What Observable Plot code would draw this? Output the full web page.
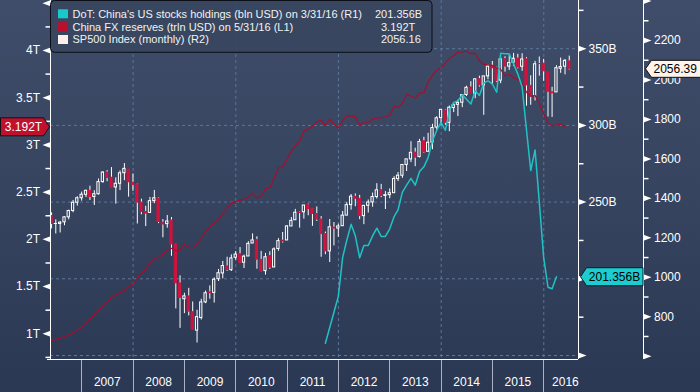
<!DOCTYPE html>
<html><head><meta charset="utf-8">
<script src="https://cdn.jsdelivr.net/npm/d3@7"></script>
<script src="https://cdn.jsdelivr.net/npm/@observablehq/plot@0.6"></script>
<style>
html,body{margin:0;padding:0;background:#2d3a56;}
#chart svg{display:block;}
</style></head><body><div id="chart"></div>
<script>
// ---------- DATA ----------
// SP500 monthly candles, first bar = May 2006 (bars dated at month end)
const spFirstMonth = "2006-05";
const spOpen = [
 1310.6,1270.1,1270.2,1278.5,1303.8,1335.8,1377.8,1400.6,
 1418.0,1437.9,1406.8,1420.8,1482.4,1530.6,1504.7,1455.2,1474.0,1527.3,1545.8,1479.6,
 1468.0,1378.6,1330.5,1326.4,1386.0,1399.6,1276.7,1269.4,1287.8,1164.2,968.7,888.6,
 903.0,823.1,729.6,793.6,872.7,923.3,920.8,990.2,1019.5,1054.9,1036.2,1098.9,
 1116.6,1073.9,1105.4,1171.2,1188.6,1087.3,1031.1,1107.5,1049.7,1143.5,1185.7,1186.6,
 1257.6,1289.1,1328.6,1329.5,1365.2,1345.2,1320.6,1292.6,1219.1,1131.2,1251.0,1246.9,
 1258.9,1312.5,1365.9,1408.5,1398.0,1309.9,1362.3,1379.3,1406.5,1440.9,1412.2,1416.2,
 1426.2,1498.1,1514.7,1569.2,1597.6,1631.7,1609.8,1689.4,1636.0,1682.4,1758.7,1806.6,
 1845.9,1782.7,1857.7,1874.0,1884.7,1923.9,1962.3,1929.8,2004.1,1971.4,2018.2,2065.8,
 2058.9,1996.7,2105.2,2067.6,2087.4,2108.6,2067.0,2104.5,1970.1,1919.7,2080.8,2082.9,
 2038.2,1936.9,1937.1,2056.6,2067.2,2093.9
];
const spHigh = [
 1326.7,1290.7,1283.4,1306.7,1340.3,1389.5,1407.9,1431.8,
 1441.6,1461.6,1438.9,1498.0,1535.6,1540.6,1555.9,1503.9,1538.7,1576.1,1545.8,1523.6,
 1471.8,1396.0,1359.7,1404.6,1440.2,1404.1,1292.2,1313.2,1303.0,1167.0,1007.5,918.9,
 943.9,875.0,833.0,888.7,930.2,956.2,996.7,1039.5,1080.2,1101.4,1113.7,1130.4,
 1150.5,1112.4,1180.2,1219.8,1205.1,1131.2,1121.0,1129.2,1148.9,1196.1,1227.1,1262.6,
 1302.7,1344.1,1332.3,1364.6,1370.6,1345.2,1356.5,1307.4,1229.3,1292.7,1277.6,1269.4,
 1333.5,1378.0,1419.2,1422.4,1415.3,1363.5,1391.7,1426.7,1474.5,1471.0,1434.3,1448.0,
 1509.9,1530.9,1570.3,1597.6,1687.2,1654.2,1698.8,1709.7,1729.9,1775.2,1813.6,1849.4,
 1850.8,1867.9,1884.0,1897.3,1924.0,1968.2,1991.4,2005.0,2019.3,2018.2,2075.8,2093.6,
 2064.4,2119.6,2117.5,2125.9,2134.7,2129.9,2132.8,2112.7,2021.0,2094.3,2116.5,2104.3,
 2038.2,1963.0,2072.2,2111.1,2103.5,2120.6
];
const spLow = [
 1245.3,1219.3,1224.5,1261.3,1290.9,1327.1,1361.0,1385.9,
 1404.0,1389.4,1364.0,1416.4,1476.7,1484.2,1454.3,1370.6,1439.3,1489.6,1406.1,1435.7,
 1270.1,1316.8,1257.0,1324.4,1373.1,1272.0,1200.4,1248.6,1106.4,839.8,741.0,815.7,
 804.2,734.5,666.8,783.3,866.1,888.9,869.3,978.5,992.0,1029.4,1029.4,1085.9,
 1071.6,1044.5,1105.4,1170.7,1040.8,1028.3,1010.9,1039.7,1049.7,1131.9,1173.0,1186.6,
 1257.6,1289.1,1249.1,1294.7,1311.8,1258.1,1282.9,1101.5,1114.2,1074.8,1158.7,1202.4,
 1258.9,1312.5,1340.0,1357.4,1292.0,1266.7,1325.4,1354.7,1396.6,1403.3,1343.4,1398.1,
 1426.2,1485.0,1501.5,1536.0,1581.3,1560.3,1604.6,1627.5,1633.4,1646.5,1746.2,1768.0,
 1770.5,1737.9,1834.4,1814.4,1859.8,1916.0,1930.7,1904.8,1964.0,1820.7,2001.0,1972.6,
 1988.4,1980.9,2039.7,2048.4,2067.9,2056.3,2044.0,1867.0,1871.9,1893.7,2019.4,1993.3,
 1812.3,1810.1,1937.1,2033.8,2025.9,2050.4
];
const spClose = [
 1270.1,1270.2,1276.7,1303.8,1335.9,1377.9,1400.6,1418.3,
 1438.2,1406.8,1420.9,1482.4,1530.6,1503.4,1455.3,1474.0,1526.8,1549.4,1481.1,1468.4,
 1378.6,1330.6,1322.7,1385.6,1400.4,1280.0,1267.4,1282.8,1166.4,968.8,896.2,903.3,
 825.9,735.1,797.9,872.8,919.1,919.3,987.5,1020.6,1057.1,1036.2,1095.6,1115.1,
 1073.9,1104.5,1169.4,1186.7,1089.4,1030.7,1101.6,1049.3,1141.2,1183.3,1180.6,1257.6,
 1286.1,1327.2,1325.8,1363.6,1345.2,1320.6,1292.3,1218.9,1131.4,1253.3,1247.0,1257.6,
 1312.4,1365.7,1408.5,1397.9,1310.3,1362.2,1379.3,1406.6,1440.7,1412.2,1416.2,1426.2,
 1498.1,1514.7,1569.2,1597.6,1630.7,1606.3,1685.7,1633.0,1681.6,1756.5,1805.8,1848.4,
 1782.6,1859.5,1872.3,1884.0,1923.6,1960.2,1930.7,2003.4,1972.3,2018.1,2067.6,2058.9,
 1995.0,2104.5,2067.9,2085.5,2107.4,2063.1,2103.8,1972.2,1920.0,2079.4,2080.4,2043.9,
 1940.2,1932.2,2059.7,2065.3,2097.0,2056.39
];
// China FX reserves (trln USD), monthly from May 2006
const fxFirstMonth = "2006-05";
const fxReserves = [
 0.925,0.941,0.954,0.972,0.988,1.010,1.040,1.066,
 1.105,1.157,1.202,1.246,1.292,1.333,1.385,1.409,1.434,1.455,1.497,1.528,
 1.590,1.647,1.682,1.757,1.797,1.809,1.845,1.884,1.906,1.880,1.885,1.946,
 1.913,1.912,1.954,2.009,2.090,2.132,2.175,2.211,2.273,2.328,2.388,2.399,
 2.415,2.425,2.447,2.490,2.440,2.454,2.538,2.548,2.648,2.760,2.768,2.847,
 2.935,2.991,3.045,3.146,3.166,3.197,3.245,3.262,3.202,3.274,3.221,3.181,
 3.254,3.310,3.305,3.299,3.206,3.240,3.240,3.273,3.285,3.287,3.298,3.312,
 3.410,3.395,3.443,3.535,3.515,3.497,3.548,3.553,3.663,3.736,3.790,3.821,
 3.867,3.914,3.948,3.981,3.984,3.993,3.967,3.969,3.888,3.853,3.847,3.843,
 3.813,3.802,3.730,3.748,3.711,3.694,3.651,3.557,3.514,3.525,3.438,3.330,
 3.231,3.202,3.213,3.220,3.192
];
// DoT: China's US stocks holdings (bln USD)
const dotMonths = ["2011-09","2011-12",
 "2012-01","2012-02","2012-03","2012-04","2012-05","2012-06","2012-07","2012-08","2012-09","2012-10","2012-11","2012-12",
 "2013-01","2013-02","2013-03","2013-04","2013-05","2013-06","2013-07","2013-08","2013-09","2013-10","2013-11","2013-12",
 "2014-01","2014-02","2014-03","2014-04","2014-05","2014-06","2014-07","2014-08","2014-09","2014-10","2014-11","2014-12",
 "2015-01","2015-02","2015-03","2015-04","2015-05","2015-06","2015-07","2015-08","2015-09","2015-10","2015-11","2015-12",
 "2016-01","2016-02","2016-03"];
const dotHoldings = [158,188.5,
 214,225,235.5,228,213.7,221.7,221.7,228,233,227.6,227.6,232.6,
 240.6,245,256.5,261,265.5,261,270,273,279,290,296.7,302,
 296.7,309.7,315,316,320,317,314,322.6,319.5,327.5,329,327,
 321.6,347,346.7,346.7,340,333.6,325,297,270.6,284,250,214,
 194.5,193.5,201.356];

// Axis ticks
const years = [2007,2008,2009,2010,2011,2012,2013,2014,2015,2016];
const gridYears = [2008,2010,2012,2014,2016];
const l1Major = [1,1.5,2,2.5,3,3.5,4,4.5];
const l1Labels = [1,1.5,2,2.5,3,3.5,4];
const l1Minor = [0.75,1.25,1.75,2.25,2.75,3.25,3.75,4.25];
const r1Major = [150,200,250,300,350];
const r1Labels = [250,300,350];
const r1Minor = [175,225,275,325,375];
const r2Major = [600,800,1000,1200,1400,1600,1800,2000,2200,2400];
const r2Labels = [800,1000,1200,1400,1600,1800,2000,2200];
const r2Minor = [700,900,1100,1300,1500,1700,1900,2100,2300];
const legendNames = ["DoT: China's US stocks holdings (bln USD) on 3/31/16 (R1)",
  "China FX reserves (trln USD) on 5/31/16 (L1)", "SP500 Index (monthly) (R2)"];
const legendValues = ["201.356B","3.192T","2056.16"];
const legendColors = ["#19c8cb","#b8102e","#fdf0ea"];

// ---------- helpers ----------
const monthEnd = (s, k = 0) => { const [y, m] = s.split("-").map(Number); return new Date(Date.UTC(y, m + k, 0)); };
const sp = spClose.map((c, i) => ({date: monthEnd(spFirstMonth, i), o: spOpen[i], h: spHigh[i], l: spLow[i], c}));
const fx = fxReserves.map((v, i) => ({date: monthEnd(fxFirstMonth, i), v}));
const dot = dotMonths.map((m, i) => ({date: monthEnd(m), v: dotHoldings[i]}));

// secondary axes mapped onto the L1 (trillions) y scale
const r1 = d3.scaleLinear([150, 350], [0.7702, 4.0191]);
const r2 = d3.scaleLinear([600, 2200], [0.7628, 4.1059]);

const xDomain = [new Date(Date.UTC(2006, 4, 23, 8)), new Date(Date.UTC(2016, 8, 3, 22))];
const yDomain = [0.7279, 4.5295];

const gridColor = "#5d7596";
const red = "#d2123d";
const white = "#ffffff";
const font = "'Liberation Sans', Arial, sans-serif";

const triL = {draw(c){ c.moveTo(0,-3); c.lineTo(-8,0); c.lineTo(0,3); c.closePath(); }};
const triR = {draw(c){ c.moveTo(0,-3); c.lineTo(8,0); c.lineTo(0,3); c.closePath(); }};
const minL = {draw(c){ c.moveTo(0,0); c.lineTo(-5,0); }};
const minR = {draw(c){ c.moveTo(0,0); c.lineTo(5,0); }};
const tagL = {draw(c){ c.moveTo(-1,0); c.lineTo(-7,-9); c.lineTo(-50,-9); c.lineTo(-50,9); c.lineTo(-7,9); c.closePath(); }};
const tagR1 = {draw(c){ c.moveTo(2,0); c.lineTo(8,-9); c.lineTo(64.5,-9); c.lineTo(64.5,9); c.lineTo(8,9); c.closePath(); }};
const tagR2 = {draw(c){ c.moveTo(2,0); c.lineTo(8,-8.5); c.lineTo(62,-8.5); c.lineTo(62,8.5); c.lineTo(8,8.5); c.closePath(); }};

const lastFx = fx[fx.length - 1];
const lastDot = dot[dot.length - 1];
const lastSp = sp[sp.length - 1];
const R2DX = 65;

const plot = Plot.plot({
  width: 700, height: 392,
  marginLeft: 50, marginRight: 122, marginTop: 0, marginBottom: 33,
  style: {background: "transparent", color: white, fontFamily: font, fontSize: "12px", overflow: "visible"},
  x: {type: "utc", domain: xDomain, axis: null},
  y: {domain: yDomain, axis: null},
  marks: [
    // grid
    Plot.ruleY(r1Major, {y: d => r1(d), stroke: gridColor, strokeDasharray: "3,3"}),
    Plot.ruleX(gridYears, {x: d => new Date(Date.UTC(d, 0, 1)), stroke: gridColor, strokeDasharray: "3,3"}),
    // candles
    Plot.ruleX(sp, {x: "date", y1: d => r2(d.l), y2: d => r2(d.h), stroke: white, strokeWidth: 1}),
    Plot.rect(sp.filter(d => d.c >= d.o), {x1: d => d3.utcDay.offset(d.date, -8), x2: d => d3.utcDay.offset(d.date, 8),
      y1: d => r2(d.o), y2: d => r2(d.c), fill: "url(#bgGrad)", stroke: white, strokeWidth: 1}),
    Plot.rect(sp.filter(d => d.c < d.o), {x1: d => d3.utcDay.offset(d.date, -8), x2: d => d3.utcDay.offset(d.date, 8),
      y1: d => r2(d.o), y2: d => r2(d.c), fill: red, stroke: red, strokeWidth: 1}),
    // lines
    Plot.line(fx, {x: "date", y: "v", stroke: "#a50f2d", strokeWidth: 1.2}),
    Plot.line(dot, {x: "date", y: d => r1(d.v), stroke: "#1fc3c6", strokeWidth: 1.5}),
    // axis lines
    Plot.ruleY([yDomain[0]], {stroke: white, insetLeft: -3}),
    Plot.ruleX([xDomain[0]], {stroke: white}),
    Plot.ruleX([xDomain[1]], {stroke: white}),
    Plot.ruleX([xDomain[1]], {stroke: white, dx: R2DX}),
    // L1 axis
    Plot.dot(l1Major, {y: d => d, frameAnchor: "left", symbol: triL, fill: white, stroke: "none"}),
    Plot.dot(l1Minor, {y: d => d, frameAnchor: "left", symbol: minL, fill: "none", stroke: white}),
    Plot.text(l1Labels, {y: d => d, text: d => `${d}T`, frameAnchor: "left", dx: -10.5, textAnchor: "end", fill: white, fontSize: 12}),
    // R1 axis
    Plot.dot(r1Major, {y: d => r1(d), frameAnchor: "right", symbol: triR, fill: white, stroke: "none"}),
    Plot.dot(r1Minor, {y: d => r1(d), frameAnchor: "right", symbol: minR, fill: "none", stroke: white}),
    Plot.text(r1Labels, {y: d => r1(d), text: d => `${d}B`, frameAnchor: "right", dx: 10, textAnchor: "start", fill: white, fontSize: 12}),
    // R2 axis
    Plot.dot(r2Major, {y: d => r2(d), frameAnchor: "right", dx: R2DX, symbol: triR, fill: white, stroke: "none"}),
    Plot.dot(r2Minor, {y: d => r2(d), frameAnchor: "right", dx: R2DX, symbol: minR, fill: "none", stroke: white}),
    Plot.text(r2Labels, {y: d => r2(d), text: d => `${d}`, frameAnchor: "right", dx: R2DX + 10.5, textAnchor: "start", fill: white, fontSize: 12}),
    // year labels
    Plot.text(years.slice(0, -1), {x: d => new Date(Date.UTC(d, 6, 1)), text: d => `${d}`, frameAnchor: "bottom", dy: 26, fill: white, fontSize: 12}),
    Plot.text(years.slice(-1), {x: d => new Date(Date.UTC(d, 6, 1)), text: d => `${d}`, frameAnchor: "bottom", dy: 26, dx: -4, fill: white, fontSize: 12}),
    // last-value tags
    Plot.dot([lastFx], {y: "v", frameAnchor: "left", symbol: tagL, fill: "#c0102d", stroke: "#111111", strokeWidth: 1}),
    Plot.text([lastFx], {y: "v", text: d => `${d3.format(".3f")(d.v)}T`, frameAnchor: "left", dx: -27, textAnchor: "middle", fill: white, fontSize: 12}),
    Plot.dot([lastDot], {y: d => r1(d.v), frameAnchor: "right", symbol: tagR1, fill: "#1ccdd0", stroke: "#0b1a28", strokeWidth: 1}),
    Plot.text([lastDot], {y: d => r1(d.v), text: d => `${d3.format(".3f")(d.v)}B`, frameAnchor: "right", dx: 36, textAnchor: "middle", fill: "#000000", fontSize: 12}),
    Plot.dot([lastSp], {y: d => r2(d.c), frameAnchor: "right", dx: R2DX, symbol: tagR2, fill: "#fff3ec", stroke: "#111111", strokeWidth: 1}),
    Plot.text([lastSp], {y: d => r2(d.c), text: d => d3.format(".2f")(d.c), frameAnchor: "right", dx: R2DX + 10, textAnchor: "start", fill: "#000000", fontSize: 12})
  ]
});

const svg = d3.select(plot);
// background gradient
const defs = svg.insert("defs", ":first-child");
const g = defs.append("linearGradient").attr("id", "bgGrad").attr("gradientUnits", "userSpaceOnUse")
  .attr("x1", 0).attr("y1", 0).attr("x2", 0).attr("y2", 392);
g.append("stop").attr("offset", 0).attr("stop-color", "#3f4d6a");
g.append("stop").attr("offset", 0.5).attr("stop-color", "#36445f");
g.append("stop").attr("offset", 1).attr("stop-color", "#2b3853");
svg.insert("rect", "defs + *").attr("x", 0).attr("y", 0).attr("width", 700).attr("height", 392).attr("fill", "url(#bgGrad)");

// year separators below the plot, through the x scale
const xs = plot.scale("x");
svg.append("g").selectAll("line").data(years).join("line")
  .attr("x1", d => Math.round(xs.apply(new Date(Date.UTC(d, 0, 1)))) + 0.5)
  .attr("x2", d => Math.round(xs.apply(new Date(Date.UTC(d, 0, 1)))) + 0.5)
  .attr("y1", 360).attr("y2", 392).attr("stroke", "#aab2c3").attr("stroke-width", 1);

// legend
const lg = svg.append("g").attr("font-family", font).attr("font-size", 11).attr("text-anchor", "start");
lg.append("rect").attr("x", 50.5).attr("y", 0.5).attr("width", 381.5).attr("height", 51.8).attr("rx", 4)
  .attr("fill", "#38465f").attr("fill-opacity", 0.93).attr("stroke", "#0b0e16");
legendNames.forEach((name, i) => {
  const cy = 13.8 + i * 12.85;
  lg.append("rect").attr("x", 58).attr("y", cy - 4.5).attr("width", 10).attr("height", 9).attr("fill", legendColors[i]);
  lg.append("text").attr("x", 72.5).attr("y", cy).attr("dy", "0.36em").attr("text-anchor", "start").attr("fill", "#f2f2f2").text(name);
  lg.append("text").attr("x", i === 0 ? 375 : 381).attr("y", cy).attr("dy", "0.36em").attr("text-anchor", "start").attr("fill", "#f2f2f2").text(legendValues[i]);
});

document.getElementById("chart").appendChild(plot);
</script></body></html>
